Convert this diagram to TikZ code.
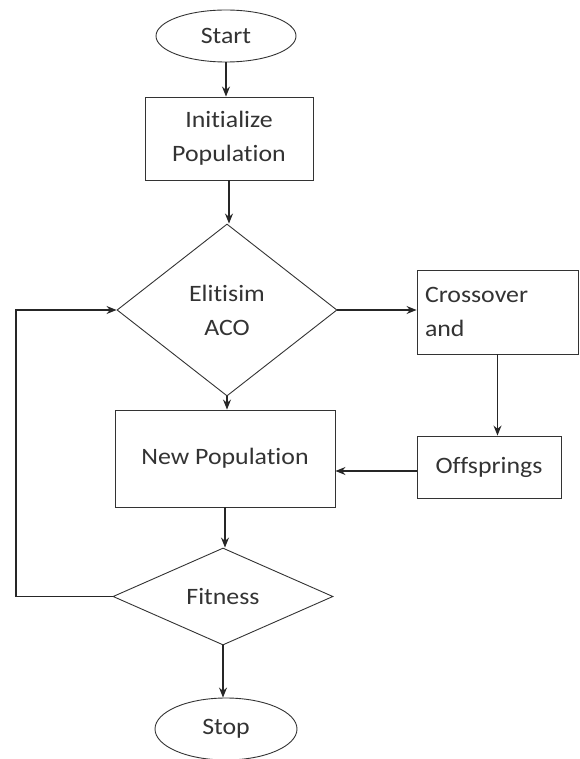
\documentclass[tikz,border=0pt]{standalone}
\usepackage{fontspec}
\setmainfont{Carlito}[Ligatures=NoCommon, FakeStretch=1.1]
\usetikzlibrary{shapes.geometric, arrows.meta}
\tikzset{>={Stealth[length=10pt,width=8pt]}}
\tikzset{
  every node/.style={font=\fontsize{23.5}{34}\selectfont, text=black!80},
  terminal/.style={draw, ellipse, inner sep=0pt},
  procbox/.style={draw, rectangle, inner sep=0pt, align=center},
  decision/.style={draw, diamond, inner sep=0pt, align=center},
  flow/.style={->, line width=1.1pt, draw=black!85}
}

\begin{document}
\begin{tikzpicture}[x=1pt, y=-1pt, line width=0.9pt, draw=black!80]
\useasboundingbox (0,0) rectangle (579,759);
\node[terminal, minimum width=140pt, minimum height=52pt] (start) at (226,36) {Start};
\node[procbox, minimum width=168pt, minimum height=83pt] (init) at (229,138.5) {Initialize\\Population};
\node[decision, minimum width=220pt, minimum height=172pt] (elit) at (227,310) {Elitisim\\ACO};
\node[procbox, minimum width=161pt, minimum height=84pt, text width=145pt, align=left] (cross) at (497.5,312) {Crossover\\and};
\node[procbox, minimum width=144pt, minimum height=62pt] (off) at (489,467) {Offsprings};
\node[procbox, minimum width=220pt, minimum height=97pt] (newpop) at (225,458.5) {New Population};
\node[decision, minimum width=220pt, minimum height=97pt] (fit) at (223,596.5) {Fitness};
\node[terminal, minimum width=142pt, minimum height=62pt] (stop) at (226,729) {Stop};
\coordinate (loop) at (16,596.5);

\draw[flow] (start) -- (start |- init.north);
\draw[flow] (init) -- (init |- elit.north);
\draw[flow] (elit) -- (elit.south |- newpop.north);
\draw[flow] (elit.east) -- (cross.west |- elit.east);
\draw[flow] (cross.south) -- (cross.south |- off.north);
\draw[flow] ([yshift=-4pt]off.west) -- ([yshift=-4pt]off.west -| newpop.east);
\draw[flow] (newpop) -- (newpop.south |- fit.north);
\draw[flow] (fit) -- (fit.south |- stop.north);
\draw[flow] (fit.west) -- (loop) |- (elit.west);
\end{tikzpicture}
\end{document}
